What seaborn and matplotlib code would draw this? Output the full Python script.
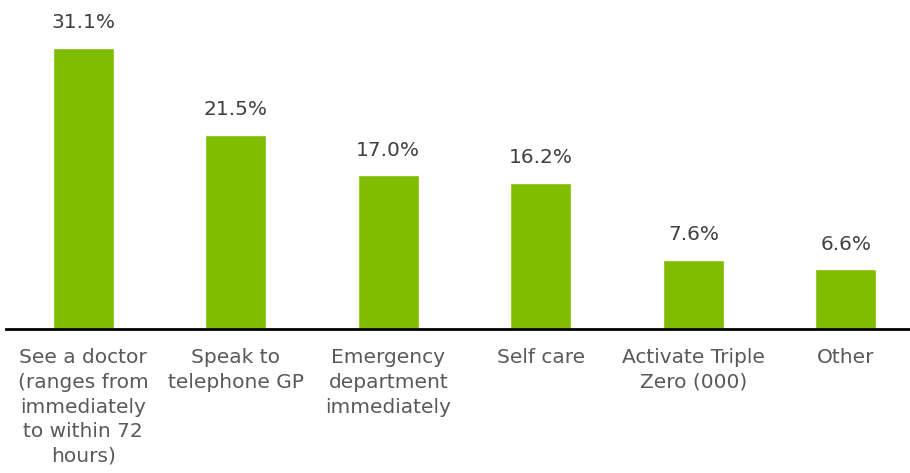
import matplotlib
matplotlib.use("Agg")
import matplotlib.pyplot as plt
import seaborn as sns
import pandas as pd

categories = ["See a doctor\n(ranges from\nimmediately\nto within 72\nhours)",
              "Speak to\ntelephone GP",
              "Emergency\ndepartment\nimmediately",
              "Self care",
              "Activate Triple\nZero (000)",
              "Other"]
values = [31.1, 21.5, 17.0, 16.2, 7.6, 6.6]
value_labels = ["31.1%", "21.5%", "17.0%", "16.2%", "7.6%", "6.6%"]

sns.set_style("white")
plt.rcParams['font.family'] = ['DejaVu Sans']

df = pd.DataFrame({"cat": categories, "val": values})

fig = plt.figure(figsize=(9.10, 4.73), dpi=100)
ax = fig.add_axes([6/910, (473-329)/473, 904/910, 329/473])
sns.barplot(data=df, x="cat", y="val", color="#80BC00", saturation=1,
            width=0.40, ax=ax)
ax.set_xlim(-0.506, 5.42)
ax.set_ylim(0, 36.4)
for i, (v, t) in enumerate(zip(values, value_labels)):
    ax.text(i, v + 1.75, t, ha="center", va="bottom", fontsize=14.5, color="#404040")
ax.set_xlabel("")
ax.set_ylabel("")
ax.set_yticks([])
for s in ["top", "right", "left"]:
    ax.spines[s].set_visible(False)
ax.spines["bottom"].set_color("black")
ax.spines["bottom"].set_linewidth(2)
ax.tick_params(axis="x", length=0, pad=14)
for lbl in ax.get_xticklabels():
    lbl.set_fontsize(14.5)
    lbl.set_color("#595959")
    lbl.set_linespacing(1.37)
    lbl.set_va("top")
fig.savefig("out.png", dpi=100)
